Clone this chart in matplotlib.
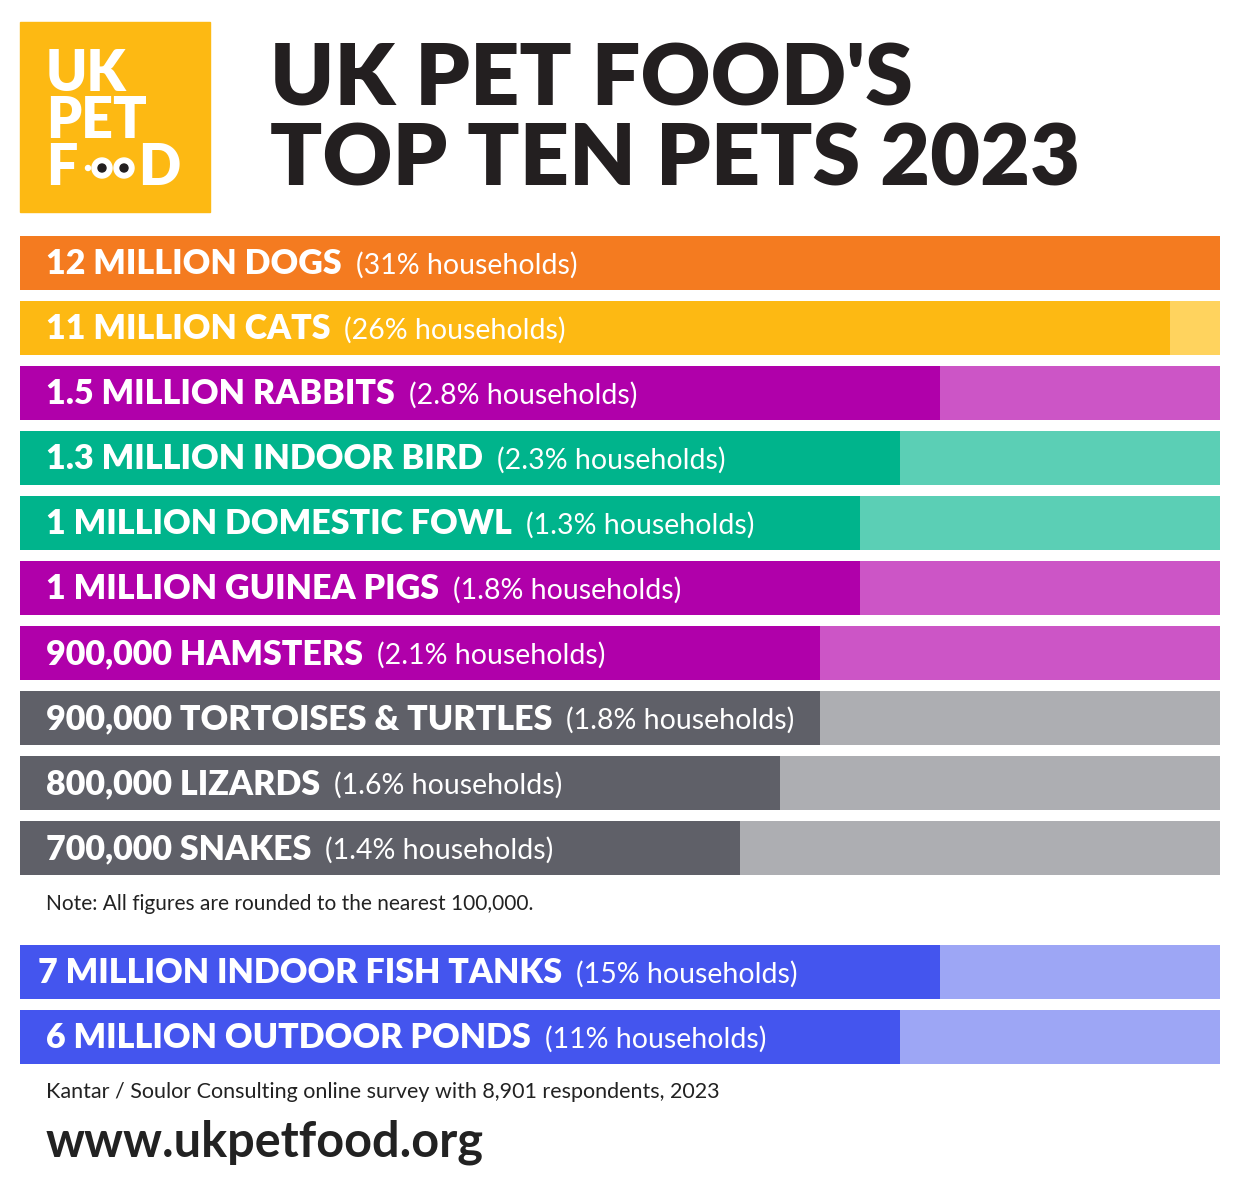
import matplotlib
matplotlib.use("Agg")
import matplotlib.pyplot as plt
from matplotlib.patches import Rectangle, Circle

# data
bold_labels = ["12 MILLION DOGS", "11 MILLION CATS", "1.5 MILLION RABBITS",
               "1.3 MILLION INDOOR BIRD", "1 MILLION DOMESTIC FOWL",
               "1 MILLION GUINEA PIGS", "900,000 HAMSTERS",
               "900,000 TORTOISES & TURTLES", "800,000 LIZARDS", "700,000 SNAKES"]
household_pct = ["31%", "26%", "2.8%", "2.3%", "1.3%", "1.8%", "2.1%", "1.8%", "1.6%", "1.4%"]
# filled share of each bar (design scale)
bar_fill = [1200, 1150, 920, 880, 840, 840, 800, 800, 760, 720]
dark_cols = ["#F47B20", "#FDB913", "#B000AA", "#00B48C", "#00B48C",
             "#B000AA", "#B000AA", "#5F6068", "#5F6068", "#5F6068"]
light_cols = ["#F47B20", "#FFD35E", "#CC55C6", "#5BCFB5", "#5BCFB5",
              "#CC55C6", "#CC55C6", "#ADAEB2", "#ADAEB2", "#ADAEB2"]

water_labels = ["7 MILLION INDOOR FISH TANKS", "6 MILLION OUTDOOR PONDS"]
water_pct = ["15%", "11%"]
water_fill = [920, 880]

FULL = 1200
W, H = 1240, 1186
fig = plt.figure(figsize=(W / 100, H / 100), dpi=100)
ax = fig.add_axes([0, 0, 1, 1])
ax.set_xlim(0, W)
ax.set_ylim(H, 0)
ax.axis("off")

FONT = "Lato"


def draw_row(y, label, pct, fill, dark, light, x_text=46):
    ax.barh(y, FULL, left=20, height=54, color=light, align="edge")
    ax.barh(y, fill, left=20, height=54, color=dark, align="edge")
    t = ax.text(x_text, y + 28, label, color="white", fontsize=24.5,
                fontweight="heavy", family=FONT, va="center")
    fig.canvas.draw()
    bb = t.get_window_extent()
    x2 = ax.transData.inverted().transform((bb.x1, bb.y0))[0]
    ax.text(x2 + 14, y + 29, f"({pct} households)", color="white", fontsize=20.5,
            family=FONT, va="center")


for i in range(len(bold_labels)):
    draw_row(236 + 65 * i, bold_labels[i], household_pct[i], bar_fill[i],
             dark_cols[i], light_cols[i])

ax.text(46, 904, "Note: All figures are rounded to the nearest 100,000.",
        fontsize=15, family=FONT, va="center", color="#222222")

for i in range(2):
    draw_row(945 + 65 * i, water_labels[i], water_pct[i], water_fill[i],
             "#4455EE", "#9DA6F5", x_text=38 if i == 0 else 46)

ax.text(46, 1092, "Kantar / Soulor Consulting online survey with 8,901 respondents, 2023",
        fontsize=15.5, family=FONT, va="center", color="#222222")
ax.text(46, 1142, "www.ukpetfood.org", fontsize=35, fontweight="bold",
        family=FONT, va="center", color="#222222")

# title
ax.text(270, 80, "UK PET FOOD'S", fontsize=62, fontweight="heavy", family=FONT,
        va="center", color="#231F20")
ax.text(270, 160, "TOP TEN PETS 2023", fontsize=62, fontweight="heavy", family=FONT,
        va="center", color="#231F20")

# logo
ax.add_patch(Rectangle((20, 22), 190, 190, color="#FDB913"))
ax.text(46, 74, "UK", fontsize=40, fontweight="heavy", family=FONT, color="white", va="center")
ax.text(46, 121, "PET", fontsize=40, fontweight="heavy", family=FONT, color="white", va="center")
ax.text(46, 168, "F", fontsize=40, fontweight="heavy", family=FONT, color="white", va="center")
ax.text(138, 168, "D", fontsize=40, fontweight="heavy", family=FONT, color="white", va="center")
for cx in (102, 124):
    ax.add_patch(Circle((cx, 168), 10, color="white"))
    ax.add_patch(Circle((cx, 168), 4, color="#231F20"))
ax.add_patch(Circle((88, 168), 2.5, color="white"))

fig.savefig("out.png", dpi=100, facecolor="white")
